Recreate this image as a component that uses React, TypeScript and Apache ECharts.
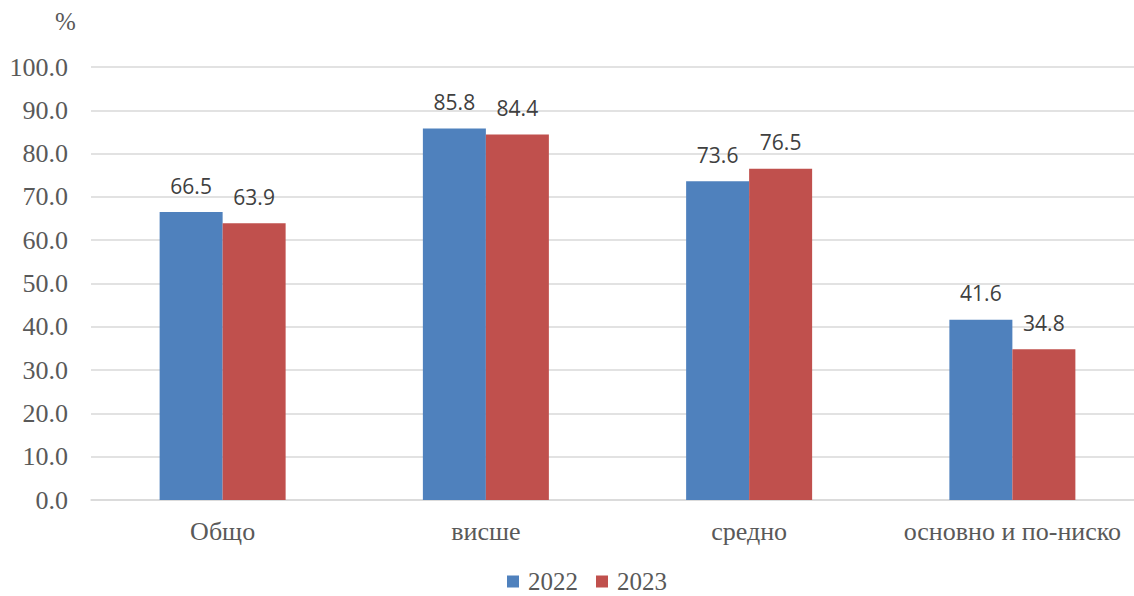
import React, { useEffect, useRef } from "react";
import * as echarts from "echarts";

const categories = ["Общо", "висше", "средно", "основно и по-ниско"];
const values2022 = [66.5, 85.8, 73.6, 41.6];
const values2023 = [63.9, 84.4, 76.5, 34.8];
const seriesNames = ["2022", "2023"];
const yTickLabels = ["0.0", "10.0", "20.0", "30.0", "40.0", "50.0", "60.0", "70.0", "80.0", "90.0", "100.0"];

export default function App() {
  const ref = useRef<HTMLDivElement>(null);
  useEffect(() => {
    const chart = echarts.init(ref.current!, null, { renderer: "svg" });
    const serif = "Liberation Serif";
    const sans = "Open Sans";
    const label = {
      show: true,
      position: "top" as const,
      distance: 16,
      fontFamily: sans,
      fontSize: 21,
      color: "#404040",
      formatter: (p: any) => Number(p.value).toFixed(1),
    };
    chart.setOption({
      animation: false,
      grid: { left: 91, top: 67, width: 1053, height: 433, containLabel: false },
      legend: {
        top: 569,
        left: 507,
        padding: 0,
        itemWidth: 12,
        itemHeight: 12,
        itemGap: 18,
        icon: "rect",
        textStyle: {
          fontFamily: serif,
          fontSize: 25,
          lineHeight: 20,
          color: "#595959",
          padding: [0, 0, 0, 4],
        },
        data: seriesNames,
      },
      graphic: [
        {
          type: "text",
          left: 55,
          top: 9,
          style: { text: "%", font: `25px ${serif}`, fill: "#595959" },
        },
      ],
      xAxis: {
        type: "category",
        data: categories,
        axisLine: { show: true, lineStyle: { color: "#d9d9d9", width: 1.5 } },
        axisTick: { show: false },
        axisLabel: { interval: 0, fontFamily: serif, fontSize: 26, color: "#595959", margin: 18 },
      },
      yAxis: {
        type: "value",
        min: 0,
        max: 100,
        interval: 10,
        axisLine: { show: false },
        axisTick: { show: false },
        splitLine: { lineStyle: { color: "#d9d9d9", width: 1.5 } },
        axisLabel: {
          fontFamily: serif,
          fontSize: 26,
          color: "#595959",
          margin: 23,
          formatter: (v: number) => yTickLabels[Math.round(v / 10)] ?? v.toFixed(1),
        },
      },
      series: [
        {
          name: seriesNames[0],
          type: "bar",
          data: values2022,
          barWidth: 63,
          barGap: "0%",
          itemStyle: { color: "#4F81BD" },
          label,
        },
        {
          name: seriesNames[1],
          type: "bar",
          data: values2023,
          barWidth: 63,
          barGap: "0%",
          itemStyle: { color: "#C0504D" },
          label,
        },
      ],
    });
    return () => chart.dispose();
  }, []);
  return (
    <div
      style={{ position: "absolute", left: 0, top: 0, width: 1134, height: 596, overflow: "hidden", background: "#fff" }}
    >
      <div ref={ref} style={{ width: 1180, height: 596 }} />
    </div>
  );
}
